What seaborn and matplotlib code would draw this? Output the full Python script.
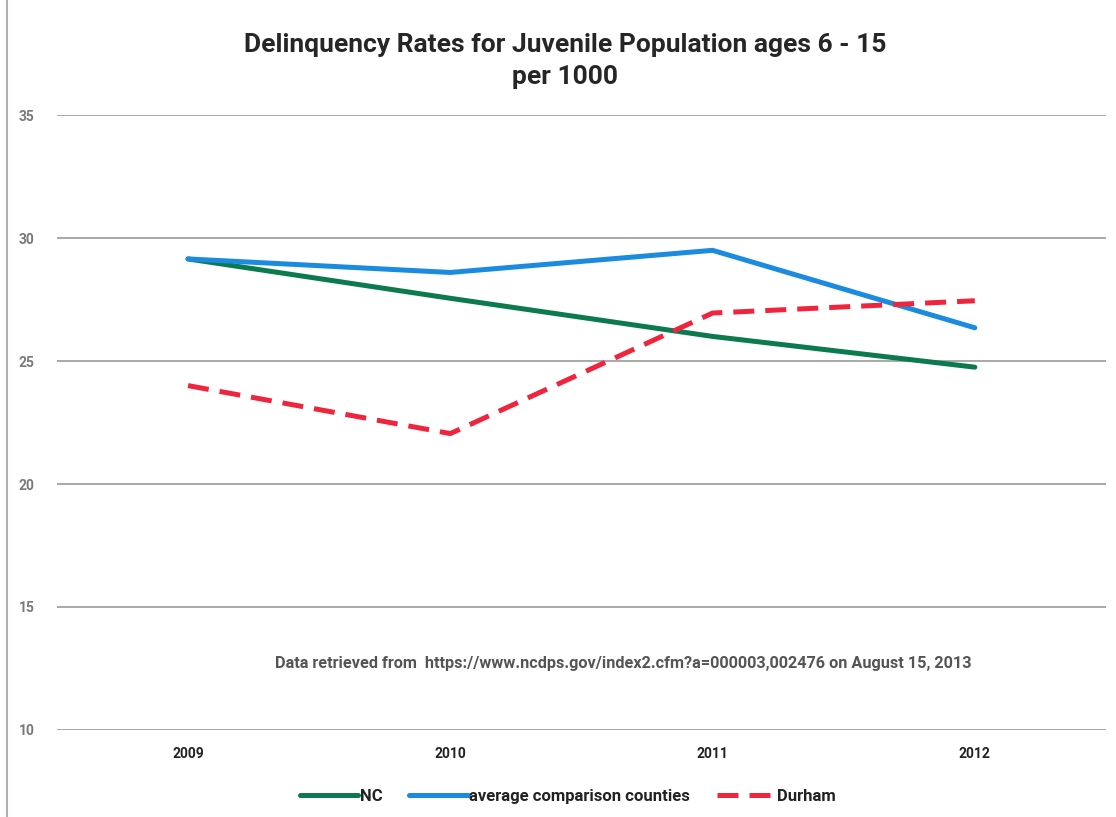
import pandas as pd
import matplotlib
matplotlib.use("Agg")
import matplotlib.pyplot as plt
import seaborn as sns

sns.set_style("white")
plt.rcParams['font.family'] = ['Roboto', 'DejaVu Sans']

# data
years = ['2009', '2010', '2011', '2012']
nc = [29.15, 27.55, 26.0, 24.75]
avg_counties = [29.15, 28.6, 29.5, 26.35]
durham = [24.0, 22.05, 26.95, 27.45]
series_names = ['NC', 'average comparison counties', 'Durham']
y_ticks = [10, 15, 20, 25, 30, 35]

df = pd.DataFrame({
    'year': years * 3,
    'rate': nc + avg_counties + durham,
    'series': [s for s in series_names for _ in years],
})

colors = {'NC': '#0b7a4e', 'average comparison counties': '#1b8be0', 'Durham': '#f0243c'}
dashes = {'NC': '', 'average comparison counties': '', 'Durham': (4.2, 2.2)}

fig = plt.figure(figsize=(11.16, 8.17), dpi=100)
ax = fig.add_axes([0.051, 0.1065, 0.94, 0.7527])

for y in y_ticks:
    ax.axhline(y, color='#9a9a9a', lw=1.2, zorder=0)

sns.lineplot(data=df, x='year', y='rate', hue='series', style='series',
             hue_order=series_names, style_order=series_names,
             palette=colors, dashes=dashes, linewidth=3.6, ax=ax, sort=False)

ax.set_xlim(-0.5, 3.5)
ax.set_ylim(10, 35)
ax.set_yticks(y_ticks)
ax.set_xlabel('')
ax.set_ylabel('')
for s in ax.spines.values():
    s.set_visible(False)
ax.tick_params(axis='y', length=0, pad=16, labelsize=10, labelcolor='#7a7a7a')
ax.tick_params(axis='x', length=0, pad=12, labelsize=10, labelcolor='#222222')
for lbl in ax.get_xticklabels() + ax.get_yticklabels():
    lbl.set_fontweight('bold')

fig.text(0.506, 0.925, 'Delinquency Rates for Juvenile Population ages 6 - 15\nper 1000',
         ha='center', va='center', fontsize=19, fontweight='bold', color='#262626',
         linespacing=1.4)

ax.text(1.658, 12.7, 'Data retrieved from  https://www.ncdps.gov/index2.cfm?a=000003,002476 on August 15, 2013',
        ha='center', va='center', fontsize=11.7, fontweight='bold', color='#555555')

leg = ax.legend(loc='upper center', bbox_to_anchor=(0.487, -0.071), ncol=3, frameon=False,
                handlelength=3.5, handletextpad=0.1, columnspacing=1.6,
                prop={'size': 12, 'weight': 'bold'})
for h in leg.get_lines():
    h.set_linewidth(3.6)
for t in leg.get_texts():
    t.set_color('#222222')

fig.add_artist(plt.Line2D([0.006, 0.006], [0.0, 1.0], color='#b0b0b0', lw=1.5))

fig.savefig('out.png', dpi=100)
